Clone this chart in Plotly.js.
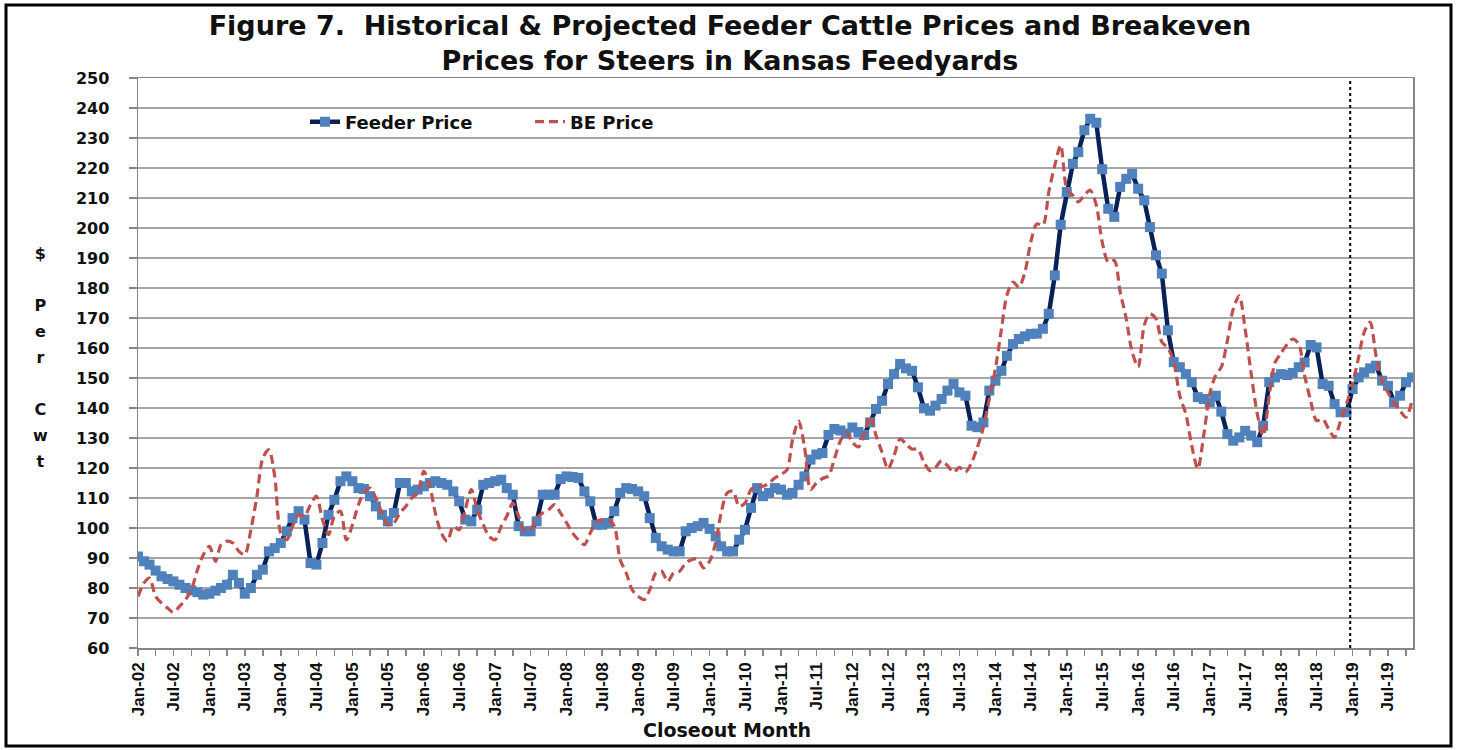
<!DOCTYPE html>
<html>
<head>
<meta charset="utf-8">
<script src="https://cdn.plot.ly/plotly-3.0.1.min.js"></script>
<style>
html,body{margin:0;padding:0;background:#fff;}
#chart{width:1457px;height:750px;}
</style>
</head>
<body>
<div id="chart"></div>
<script>
// ---- Data (closeout months Jan-02 .. Nov-19) ----
const firstYear = 2002;
const firstMonth = 1;

const feederPrice = [
  90.5, 88.9, 87.8, 85.8, 83.9, 83.0, 82.2, 81.1, 80.0, 79.2, 78.6, 77.8,
  78.1, 79.1, 80.0, 81.1, 84.4, 81.7, 78.1, 80.0, 84.4, 86.1, 92.2, 93.3,
  95.0, 98.9, 103.3, 105.6, 102.8, 88.3, 87.8, 95.0, 104.4, 109.4, 115.6, 117.2,
  115.6, 113.3, 113.0, 110.6, 107.2, 104.4, 102.2, 105.0, 115.0, 115.0, 112.2, 112.8,
  113.9, 115.0, 115.6, 115.0, 114.4, 112.2, 108.9, 102.8, 102.2, 106.1, 114.4, 115.0,
  115.6, 116.1, 113.3, 111.1, 100.6, 98.9, 98.9, 102.2, 111.1, 111.1, 111.1, 116.3,
  117.2, 117.0, 116.7, 112.2, 108.9, 101.1, 101.1, 101.7, 105.6, 111.7, 113.3, 113.0,
  112.2, 110.6, 103.3, 96.7, 93.9, 92.8, 92.2, 92.2, 98.9, 100.0, 100.6, 101.7,
  99.7, 97.2, 93.9, 92.2, 92.2, 96.1, 99.4, 106.7, 113.3, 110.6, 111.7, 113.3,
  112.8, 111.1, 111.7, 114.4, 117.2, 122.8, 124.5, 125.0, 131.0, 133.0, 132.5, 131.5,
  133.5, 132.0, 131.0, 135.2, 139.7, 142.4, 148.0, 151.3, 154.7, 153.2, 152.4, 146.9,
  139.9, 139.1, 140.8, 143.0, 145.8, 148.0, 145.2, 144.1, 134.1, 133.6, 135.2, 145.8,
  149.1, 152.4, 157.4, 161.3, 163.0, 163.9, 164.7, 164.8, 166.4, 171.4, 184.2, 201.1,
  212.0, 221.4, 225.3, 232.6, 236.4, 235.1, 219.6, 206.4, 203.7, 213.7, 216.4, 218.1,
  213.1, 209.2, 200.3, 190.9, 184.8, 165.9, 155.3, 153.6, 151.3, 148.6, 143.6, 143.0,
  141.9, 144.1, 138.8, 131.3, 129.1, 130.2, 132.4, 130.8, 128.6, 134.1, 148.6, 150.2,
  151.3, 151.0, 151.7, 153.6, 155.2, 161.0, 160.2, 148.0, 147.4, 141.3, 138.6, 138.6,
  146.3, 150.2, 151.9, 153.2, 154.1, 149.1, 147.4, 141.9, 144.1, 148.6, 150.2
];

const bePrice = [
  77.2, 81.7, 83.3, 77.2, 75.0, 73.3, 71.9, 73.9, 76.1, 79.4, 86.1, 91.1,
  93.9, 88.9, 94.4, 95.6, 95.0, 92.2, 91.1, 99.4, 110.6, 123.3, 126.1, 117.2,
  98.3, 96.1, 100.6, 104.4, 103.9, 107.8, 110.6, 102.8, 97.8, 104.0, 105.6, 96.0,
  101.0, 107.8, 111.7, 113.3, 110.0, 105.0, 101.1, 101.7, 105.0, 107.2, 110.0, 111.7,
  118.9, 113.9, 105.0, 98.3, 95.6, 100.6, 99.4, 106.1, 112.8, 106.1, 101.1, 97.2,
  96.1, 100.6, 103.9, 108.3, 103.9, 98.9, 99.4, 103.3, 105.0, 106.1, 107.8, 105.0,
  101.7, 98.3, 96.1, 94.4, 98.3, 102.2, 102.8, 102.8, 100.6, 89.4, 85.0, 79.4,
  77.2, 76.1, 79.4, 85.0, 85.6, 82.2, 85.0, 85.6, 88.3, 89.4, 89.7, 86.7,
  88.9, 95.0, 105.0, 111.7, 112.2, 107.2, 108.3, 112.8, 113.9, 113.9, 115.0, 116.7,
  117.8, 119.4, 129.4, 135.6, 127.2, 112.8, 115.0, 116.5, 117.4, 123.0, 129.1, 131.9,
  128.6, 127.0, 131.4, 137.4, 130.8, 125.2, 119.7, 124.1, 129.7, 128.0, 126.3, 126.3,
  121.9, 119.1, 120.2, 122.4, 120.8, 118.6, 120.2, 118.6, 121.7, 126.9, 133.6, 143.0,
  153.0, 166.3, 177.6, 182.0, 180.3, 185.3, 195.3, 201.4, 200.9, 212.0, 220.9, 227.6,
  213.1, 210.9, 208.7, 210.9, 212.6, 207.6, 195.3, 188.7, 189.2, 178.7, 169.8, 158.7,
  153.7, 167.6, 171.4, 169.8, 162.0, 160.0, 155.3, 144.0, 138.0, 127.4, 119.7, 130.8,
  144.7, 151.0, 153.6, 162.4, 173.0, 177.4, 166.3, 151.3, 138.0, 130.8, 144.1, 155.2,
  158.3, 161.3, 163.0, 161.3, 150.8, 142.4, 135.8, 136.3, 133.0, 130.2, 135.8, 141.3,
  148.0, 156.9, 165.2, 168.6, 157.4, 149.1, 145.2, 141.9, 139.1, 136.9, 142.4
];

const seriesNames = ['Feeder Price', 'BE Price'];
const projectionStart = '2018-12-20';
const chartTitle = 'Figure 7.\u00a0 Historical &amp; Projected Feeder Cattle Prices and Breakeven<br>Prices for Steers in Kansas Feedyards';
const yAxisTitleChars = ['$', '', 'P', 'e', 'r', '', 'C', 'w', 't'];
const xAxisTitle = 'Closeout Month';

// months as dates
const months = feederPrice.map((_, k) => {
  const idx = (firstMonth - 1) + k;
  const y = firstYear + Math.floor(idx / 12);
  const m = idx % 12 + 1;
  return y + '-' + String(m).padStart(2, '0') + '-01';
});

const boldFont = 'DejaVu Sans, Verdana, sans-serif';

const traces = [
  {
    x: months, y: feederPrice, name: seriesNames[0],
    type: 'scatter', mode: 'lines+markers',
    line: {color: '#0A2157', width: 4.5},
    marker: {symbol: 'square', size: 10, color: '#4F81BD', line: {width: 0}}
  },
  {
    x: months, y: bePrice, name: seriesNames[1],
    type: 'scatter', mode: 'lines',
    line: {color: '#C0504D', width: 3.2, dash: '9px,5px', shape: 'spline', smoothing: 0.8}
  }
];

const L = 138, R = 1413, T = 78, B = 648;
const pw = R - L, ph = B - T;

const layout = {
  width: 1457, height: 750,
  margin: {l: L, r: 1457 - R, t: T, b: 750 - B, pad: 0},
  paper_bgcolor: '#ffffff', plot_bgcolor: '#ffffff',
  title: {
    text: chartTitle,
    font: {family: boldFont, size: 27, color: '#111', weight: 700},
    xref: 'container', x: 0.501, xanchor: 'center',
    yref: 'container', y: 0.953, yanchor: 'top'
  },
  showlegend: true,
  legend: {
    orientation: 'h', x: (305 - L) / pw, xanchor: 'left',
    y: (B - 122) / ph, yanchor: 'middle',
    font: {family: boldFont, size: 18, color: '#111', weight: 700},
    bgcolor: 'rgba(0,0,0,0)', entrywidth: 180, entrywidthmode: 'pixels',
    itemwidth: 30
  },
  xaxis: {
    type: 'date',
    range: ['2002-01-01', '2019-11-06'],
    tick0: '2002-01-01', dtick: 'M6', tickformat: '%b-%y',
    tickangle: -90,
    ticks: 'outside', ticklen: 6, tickwidth: 1.5, tickcolor: '#868686',
    minor: {dtick: 'M3', ticks: 'outside', ticklen: 6, tickwidth: 1.5, tickcolor: '#868686', showgrid: false},
    tickfont: {family: 'Liberation Sans Narrow, Arial Narrow, sans-serif', size: 17, color: '#111', weight: 700},
    showgrid: false, zeroline: false,
    showline: true, linecolor: '#868686', linewidth: 1.5, mirror: true,
    fixedrange: true
  },
  yaxis: {
    range: [60, 250], dtick: 10, tick0: 60,
    ticks: 'outside', ticklen: 8, tickwidth: 1.5, tickcolor: '#868686',
    tickfont: {family: boldFont, size: 16, color: '#111', weight: 700},
    ticklabelstandoff: 16,
    showgrid: true, gridcolor: '#a6a6a6', gridwidth: 1.5,
    zeroline: false,
    showline: true, linecolor: '#868686', linewidth: 1.5, mirror: true,
    fixedrange: true
  },
  shapes: [
    {type: 'line', xref: 'x', yref: 'paper', x0: projectionStart, x1: projectionStart, y0: 0, y1: 1,
     line: {color: '#000', width: 2, dash: 'dot'}},
    {type: 'rect', xref: 'paper', yref: 'paper',
     x0: (6 - L) / pw, x1: (1451 - L) / pw, y0: (B - 746) / ph, y1: (B - 5) / ph,
     line: {color: '#000', width: 3}, fillcolor: 'rgba(0,0,0,0)'}
  ],
  annotations: [
    {
      text: yAxisTitleChars.map(c => '<span style="font-size:16px">' + (c === '' ? '\u00a0' : c) + '</span>').join('<br>'),
      xref: 'paper', yref: 'paper', x: (40 - L) / pw, y: (B - 357) / ph,
      xanchor: 'center', yanchor: 'middle', showarrow: false,
      font: {family: boldFont, size: 20, color: '#111', weight: 700}
    },
    {
      text: xAxisTitle,
      xref: 'paper', yref: 'paper', x: (727 - L) / pw, y: (B - 730) / ph,
      xanchor: 'center', yanchor: 'middle', showarrow: false,
      font: {family: boldFont, size: 19, color: '#111', weight: 700}
    }
  ]
};

Plotly.newPlot('chart', traces, layout, {displayModeBar: false, staticPlot: true});
</script>
</body>
</html>
